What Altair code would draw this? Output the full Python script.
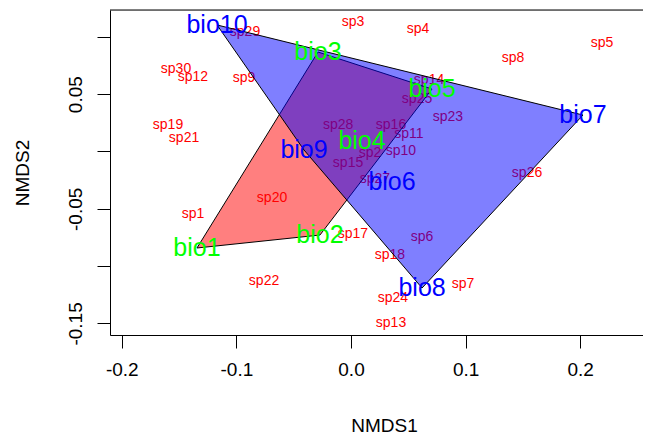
import altair as alt
import pandas as pd

# ---- data ----
species = ["sp1", "sp2", "sp3", "sp4", "sp5", "sp6", "sp7", "sp8", "sp9", "sp10",
           "sp11", "sp12", "sp13", "sp14", "sp15", "sp16", "sp17", "sp18", "sp19", "sp20",
           "sp21", "sp22", "sp23", "sp24", "sp25", "sp26", "sp27", "sp28", "sp29", "sp30"]
sp_x = [-0.1379, 0.0166, 0.0017, 0.0585, 0.2190, 0.0620, 0.0977, 0.1414, -0.0934, 0.0436,
        0.0506, -0.1379, 0.0349, 0.0681, -0.0026, 0.0349, 0.0017, 0.0340, -0.1597, -0.0689,
        -0.1457, -0.0759, 0.0846, 0.0366, 0.0576, 0.1536, 0.0209, -0.0113, -0.0925, -0.1527]
sp_y = [-0.0545, -0.0013, 0.1130, 0.1069, 0.0947, -0.0746, -0.1156, 0.0816, 0.0641, 0.0004,
        0.0153, 0.0650, -0.1497, 0.0624, -0.0100, 0.0231, -0.0720, -0.0903, 0.0231, -0.0406,
        0.0118, -0.1130, 0.0301, -0.1278, 0.0458, -0.0188, -0.0240, 0.0231, 0.1043, 0.0720]

sites = ["bio1", "bio2", "bio3", "bio4", "bio5", "bio6", "bio7", "bio8", "bio9", "bio10"]
site_x = [-0.1344, -0.0271, -0.0288, 0.0096, 0.0707, 0.0358, 0.2024, 0.0620, -0.0410, -0.1169]
site_y = [-0.0842, -0.0729, 0.0868, 0.0092, 0.0545, -0.0266, 0.0318, -0.1191, 0.0013, 0.1104]
site_group = ["A", "A", "A", "A", "A", "B", "B", "B", "B", "B"]

group_names = ["A", "B"]
group_text_colors = ["#00FF00", "#0000FF"]
group_fill_colors = ["#FF0000", "#0000FF"]

x_ticks = [-0.2, -0.1, 0.0, 0.1, 0.2]
y_ticks = [-0.15, -0.1, -0.05, 0.0, 0.05, 0.1]

X_DOMAIN = [-0.2103, 0.2548]
Y_DOMAIN = [-0.16012, 0.12347]
W, H = 533, 325
FONT = "Liberation Sans"

sp_df = pd.DataFrame({"name": species, "x": sp_x, "y": sp_y})
site_df = pd.DataFrame({"name": sites, "x": site_x, "y": site_y, "group": site_group})


def convex_hull(points):
    pts = sorted(points)
    def cross(o, a, b):
        return (a[0] - o[0]) * (b[1] - o[1]) - (a[1] - o[1]) * (b[0] - o[0])
    lower, upper = [], []
    for p in pts:
        while len(lower) >= 2 and cross(lower[-2], lower[-1], p) <= 0:
            lower.pop()
        lower.append(p)
    for p in reversed(pts):
        while len(upper) >= 2 and cross(upper[-2], upper[-1], p) <= 0:
            upper.pop()
        upper.append(p)
    return lower[:-1] + upper[:-1]


hull_rows = []
for g in group_names:
    pts = [(x, y) for x, y, gg in zip(site_x, site_y, site_group) if gg == g]
    hull = convex_hull(pts)
    hull = hull + [hull[0]]
    for i, (x, y) in enumerate(hull):
        hull_rows.append({"group": g, "x": x, "y": y, "ord": i})
hull_df = pd.DataFrame(hull_rows)

xs = alt.Scale(domain=X_DOMAIN, nice=False, zero=False)
ys = alt.Scale(domain=Y_DOMAIN, nice=False, zero=False)

x_axis = alt.Axis(
    values=x_ticks,
    labelExpr="(datum.value < -0.0001 ? '-' : '') + format(abs(datum.value), '.1f')",
    grid=False, tickSize=13, tickColor="black", tickWidth=1,
    domainColor="black", domainWidth=1,
    labelFont=FONT, labelFontSize=19, labelColor="black", labelPadding=12,
    title="NMDS1", titleFont=FONT, titleFontSize=19, titleFontWeight="normal",
    titleColor="black", titleX=274, titleY=90, titleBaseline="middle", titleAlign="center",
)
y_axis = alt.Axis(
    values=y_ticks,
    labelExpr="(abs(round(datum.value*100)) == 5 || round(datum.value*100) == -15) ? "
              "((datum.value < 0 ? '-' : '') + format(abs(datum.value), '.2f')) : ''",
    grid=False, tickSize=13, tickColor="black", tickWidth=1,
    domainColor="black", domainWidth=1,
    labelFont=FONT, labelFontSize=19, labelColor="black", labelPadding=12,
    labelAngle=270, labelAlign="center", labelBaseline="bottom",
    title="NMDS2", titleFont=FONT, titleFontSize=19, titleFontWeight="normal",
    titleColor="black", titleX=-88, titleY=162.5, titleAngle=270,
    titleBaseline="middle", titleAlign="center",
)

sp_layer = alt.Chart(sp_df).mark_text(
    font=FONT, fontSize=14, color="#FF0000", baseline="middle", align="center"
).encode(
    x=alt.X("x:Q", scale=xs, axis=x_axis),
    y=alt.Y("y:Q", scale=ys, axis=y_axis),
    text="name:N",
)

hull_layers = []
for g, fc in zip(group_names, group_fill_colors):
    hull_layers.append(
        alt.Chart(hull_df[hull_df["group"] == g]).mark_line(
            fill=fc, fillOpacity=0.5, stroke="black", strokeWidth=1, interpolate="linear"
        ).encode(
            x=alt.X("x:Q", scale=xs),
            y=alt.Y("y:Q", scale=ys),
            order="ord:Q",
        )
    )

site_layer = alt.Chart(site_df).mark_text(
    font=FONT, fontSize=25, baseline="middle", align="center"
).encode(
    x=alt.X("x:Q", scale=xs),
    y=alt.Y("y:Q", scale=ys),
    text="name:N",
    color=alt.Color("group:N", scale=alt.Scale(domain=group_names, range=group_text_colors),
                    legend=None),
)

top_line = alt.Chart(pd.DataFrame({"a": [0]})).mark_rule(color="black", strokeWidth=1).encode(
    x=alt.value(0), x2=alt.value(W), y=alt.value(0)
)

chart = alt.layer(sp_layer, *hull_layers, site_layer, top_line).properties(
    width=W, height=H,
    autosize=alt.AutoSizeParams(type="none"),
    padding={"left": 102, "top": 2, "right": 0, "bottom": 99},
).configure_view(stroke=None).configure(background="white")

chart.save("out.html", embed_options={"renderer": "svg", "actions": False})
